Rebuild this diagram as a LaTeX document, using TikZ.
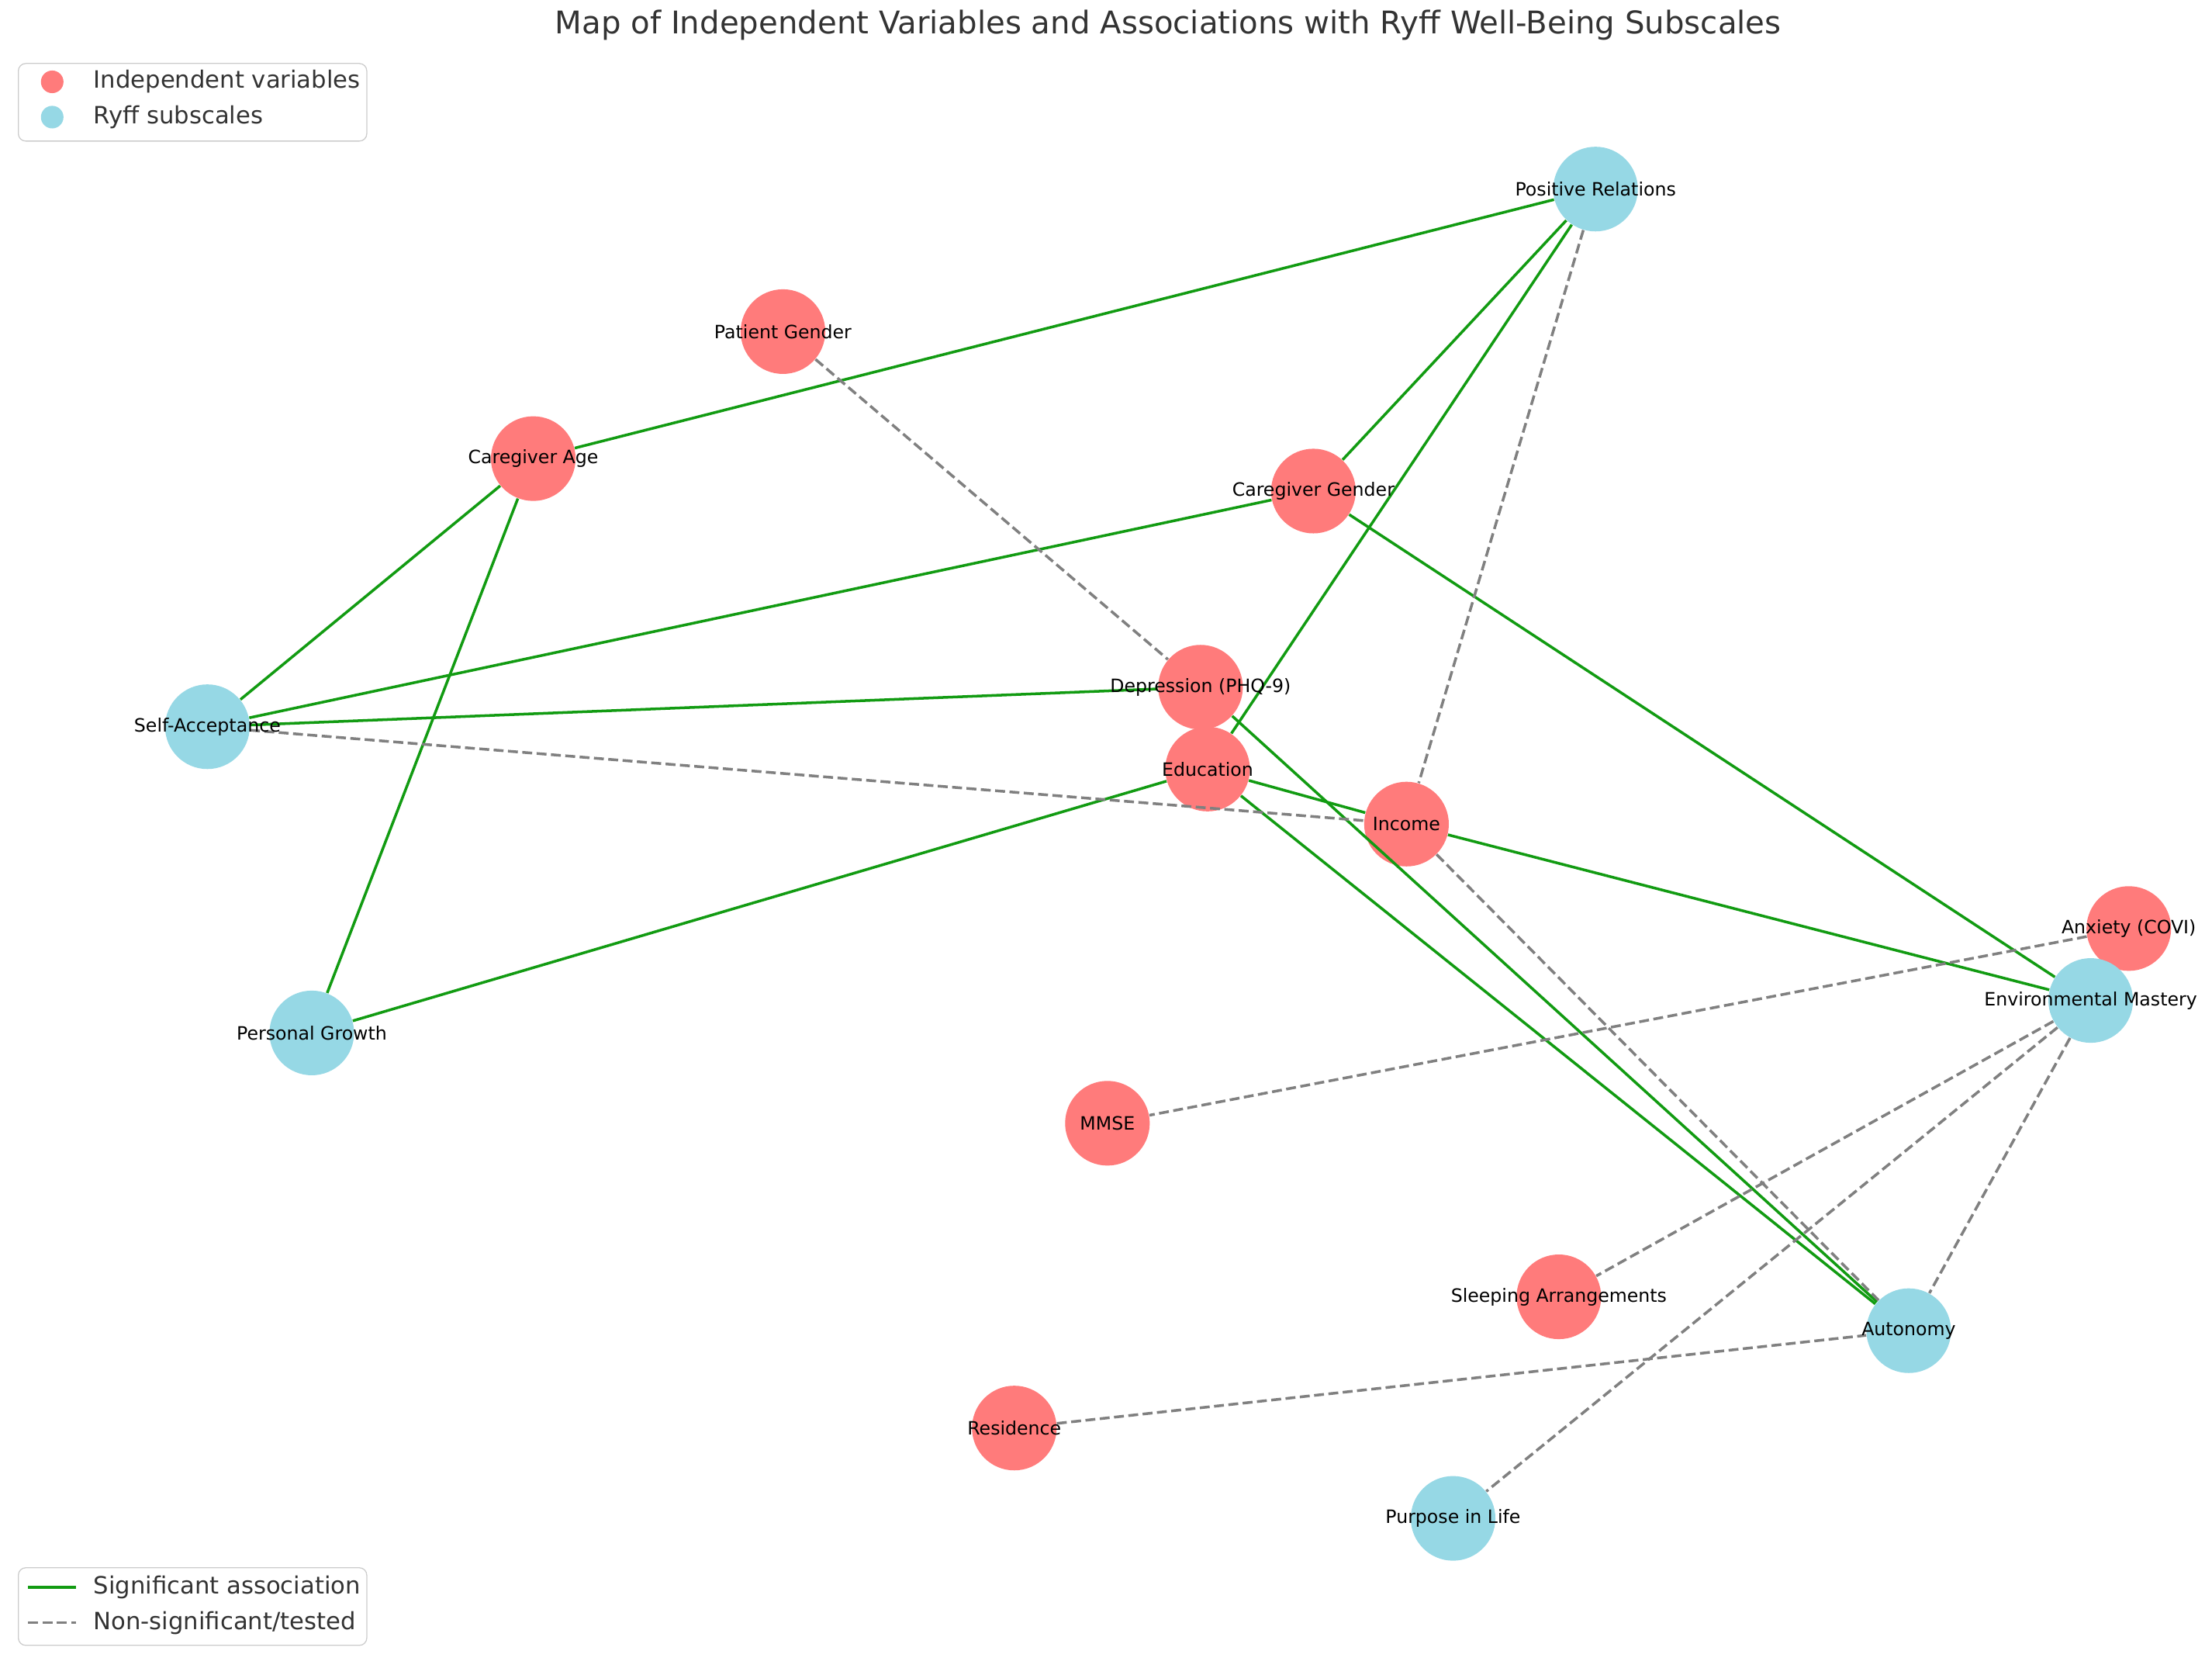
\documentclass[tikz,border=0pt]{standalone}
\usepackage{fontspec}
\setmainfont{DejaVu Sans}
\usetikzlibrary{positioning}
\definecolor{ivred}{HTML}{FF7B7B}
\definecolor{ryblue}{HTML}{96D8E5}
\definecolor{sigreen}{HTML}{129B12}
\definecolor{txtgray}{HTML}{333333}
\tikzset{
  ivar/.style={circle,fill=ivred,minimum size=1.2cm,inner sep=0pt},
  ryff/.style={circle,fill=ryblue,minimum size=1.2cm,inner sep=0pt},
  lbl/.style={font=\fontsize{7.4}{8}\selectfont,text=black},
  sig/.style={sigreen,line width=1.1pt},
  nsig/.style={gray,dash pattern=on 4pt off 1.8pt,line width=1.1pt},
  legtxt/.style={font=\fontsize{9.6}{11}\selectfont,text=txtgray,anchor=west,inner sep=0pt}
}
\begin{document}
\begin{tikzpicture}[x={(0.02cm,0)},y={(0,-0.02cm)}]
\useasboundingbox (0,0) rectangle (1568,1182);

% nodes
\node[ryff] (pr) at (1131,134) {};
\node[ivar] (pg) at (555,235) {};
\node[ivar] (ca) at (378,325) {};
\node[ivar] (cg) at (931,348) {};
\node[ivar] (dep) at (851,487) {};
\node[ryff] (sa) at (147,515) {};
\node[ivar] (edu) at (856,545) {};
\node[ivar] (inc) at (997,584) {};
\node[ivar] (anx) at (1509,658) {};
\node[ryff] (em) at (1482,709) {};
\node[ryff] (pgr) at (221,732) {};
\node[ivar] (mmse) at (785,796) {};
\node[ivar] (sleep) at (1105,919) {};
\node[ryff] (aut) at (1353,943) {};
\node[ivar] (res) at (719,1012) {};
\node[ryff] (pil) at (1030,1076) {};

% significant
\draw[sig] (ca) -- (pr);
\draw[sig] (ca) -- (sa);
\draw[sig] (ca) -- (pgr);
\draw[sig] (cg) -- (pr);
\draw[sig] (cg) -- (sa);
\draw[sig] (cg) -- (em);
\draw[sig] (pr) -- (edu);
\draw[sig] (dep) -- (sa);
\draw[sig] (dep) -- (aut);
\draw[sig] (edu) -- (pgr);
\draw[sig] (edu) -- (inc);
\draw[sig] (inc) -- (em);
\draw[sig] (edu) -- (aut);

% non-significant
\draw[nsig] (pg) -- (dep);
\draw[nsig] (pr) -- (inc);
\draw[nsig] (sa) -- (inc);
\draw[nsig] (inc) -- (aut);
\draw[nsig] (anx) -- (mmse);
\draw[nsig] (em) -- (sleep);
\draw[nsig] (em) -- (pil);
\draw[nsig] (em) -- (aut);
\draw[nsig] (res) -- (aut);

% labels
\node[lbl] (pr-t) at (pr) {Positive Relations};
\node[lbl] (pg-t) at (pg) {Patient Gender};
\node[lbl] (ca-t) at (ca) {Caregiver Age};
\node[lbl] (cg-t) at (cg) {Caregiver Gender};
\node[lbl] (dep-t) at (dep) {Depression (PHQ-9)};
\node[lbl] (sa-t) at (sa) {Self-Acceptance};
\node[lbl] (edu-t) at (edu) {Education};
\node[lbl] (inc-t) at (inc) {Income};
\node[lbl] (anx-t) at (anx) {Anxiety (COVI)};
\node[lbl] (em-t) at (em) {Environmental Mastery};
\node[lbl] (pgr-t) at (pgr) {Personal Growth};
\node[lbl] (mmse-t) at (mmse) {MMSE};
\node[lbl] (sleep-t) at (sleep) {Sleeping Arrangements};
\node[lbl] (aut-t) at (aut) {Autonomy};
\node[lbl] (res-t) at (res) {Residence};
\node[lbl] (pil-t) at (pil) {Purpose in Life};

% title
\node[font=\fontsize{12.6}{14}\selectfont,text=txtgray] (title) at (828,18) {Map of Independent Variables and Associations with Ryff Well-Being Subscales};

% legends
\draw[gray!40,rounded corners=3pt,fill=white] (13,45) rectangle (260,100);
\fill[ivred] (37,58) circle (8);
\fill[ryblue] (37,83) circle (8);
\node[legtxt] (leg-iv) at (66,58) {Independent variables};
\node[legtxt] (leg-ry) at (66,83) {Ryff subscales};

\draw[gray!40,rounded corners=3pt,fill=white] (13,1111) rectangle (260,1166);
\coordinate (s1) at (20,1125);
\coordinate (s2) at (54,1125);
\coordinate (n1) at (20,1150);
\coordinate (n2) at (54,1150);
\draw[sig] (s1) -- (s2);
\draw[nsig] (n1) -- (n2);
\node[legtxt] (leg-s) at (66,1125) {Significant association};
\node[legtxt] (leg-n) at (66,1150) {Non-significant/tested};
\end{tikzpicture}
\end{document}
